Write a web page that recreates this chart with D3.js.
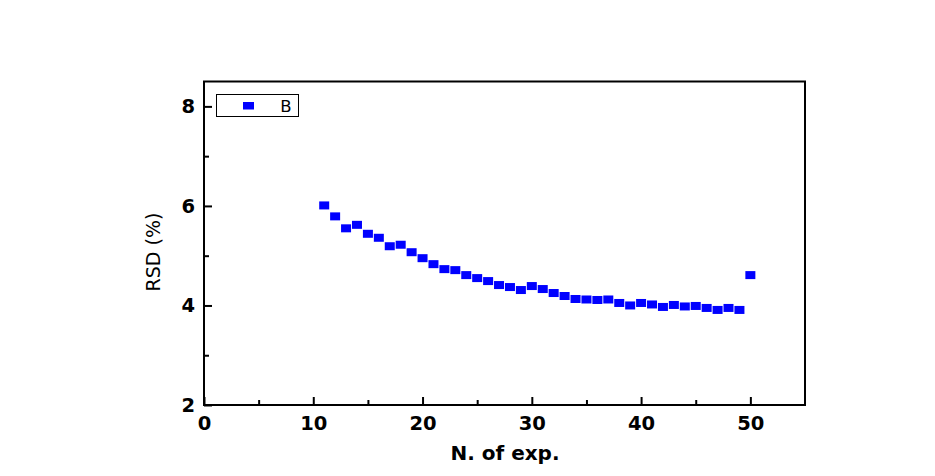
<!DOCTYPE html>
<html>
<head>
<meta charset="utf-8">
<script src="https://cdn.jsdelivr.net/npm/d3@7"></script>
<style>
  html, body { margin: 0; padding: 0; background: #fff; }
  svg { display: block; }
</style>
</head>
<body>
<svg id="chart" width="935" height="476"></svg>
<script>
const expN = [11,12,13,14,15,16,17,18,19,20,21,22,23,24,25,26,27,28,29,30,
              31,32,33,34,35,36,37,38,39,40,41,42,43,44,45,46,47,48,49,50];
const rsdB = [6.01,5.79,5.55,5.62,5.44,5.36,5.19,5.22,5.07,4.95,4.83,4.73,4.71,4.61,4.55,4.49,4.41,4.37,4.31,4.39,
              4.33,4.25,4.19,4.13,4.12,4.11,4.12,4.05,4.00,4.05,4.02,3.97,4.01,3.98,3.99,3.95,3.91,3.95,3.91,4.61];
const xMajorTicks = [0,10,20,30,40,50];
const xMinorTicks = [5,15,25,35,45];
const yMajorTicks = [2,4,6,8];
const yMinorTicks = [3,5,7];
const seriesName = "B";
const xTitle = "N. of exp.";
const yTitle = "RSD (%)";

const svg = d3.select("#chart");
const L = 204, R = 805, T = 81.5, B = 405;
const x = d3.scaleLinear().domain([0,55]).range([L,R]);
const y = d3.scaleLinear().domain([2,8.5]).range([B,T]);
const font = "'DejaVu Sans', sans-serif";

// points
svg.append("g").selectAll("rect").data(expN).join("rect")
  .attr("x", (d) => x(d) - 5)
  .attr("y", (d,i) => y(rsdB[i]) - 4)
  .attr("width", 10).attr("height", 8)
  .attr("fill", "#0000ff");

// frame
svg.append("rect").attr("x", L).attr("y", T).attr("width", R-L).attr("height", B-T)
  .attr("fill", "none").attr("stroke", "#000").attr("stroke-width", 2);

// x axis
const xAxis = d3.axisBottom(x).tickValues(xMajorTicks).tickFormat(d3.format("d"))
  .tickSizeInner(-8).tickSizeOuter(0).tickPadding(11);
const gx = svg.append("g").attr("transform", `translate(0,${B})`).call(xAxis);
gx.select(".domain").remove();
gx.selectAll(".tick line").attr("stroke-width", 2);
gx.selectAll(".tick text").attr("font-family", font).attr("font-weight", "bold").attr("font-size", 19.5).attr("fill", "#000");
const xMinor = d3.axisBottom(x).tickValues(xMinorTicks).tickSizeInner(-5).tickSizeOuter(0).tickFormat("");
const gxm = svg.append("g").attr("transform", `translate(0,${B})`).call(xMinor);
gxm.select(".domain").remove();
gxm.selectAll(".tick line").attr("stroke-width", 2);

// y axis
const yAxis = d3.axisLeft(y).tickValues(yMajorTicks).tickFormat(d3.format("d"))
  .tickSizeInner(-8).tickSizeOuter(0).tickPadding(9);
const gy = svg.append("g").attr("transform", `translate(${L},0)`).call(yAxis);
gy.select(".domain").remove();
gy.selectAll(".tick line").attr("stroke-width", 2);
gy.selectAll(".tick text").attr("font-family", font).attr("font-weight", "bold").attr("font-size", 19.5).attr("fill", "#000");
const yMinor = d3.axisLeft(y).tickValues(yMinorTicks).tickSizeInner(-5).tickSizeOuter(0).tickFormat("");
const gym = svg.append("g").attr("transform", `translate(${L},0)`).call(yMinor);
gym.select(".domain").remove();
gym.selectAll(".tick line").attr("stroke-width", 2);

// titles
svg.append("text").attr("x", 505).attr("y", 460).attr("text-anchor", "middle")
  .attr("font-family", font).attr("font-weight", "bold").attr("font-size", 20).text(xTitle);
svg.append("text").attr("transform", "translate(160,252) rotate(-90)").attr("text-anchor", "middle")
  .attr("font-family", font).attr("font-size", 19).text(yTitle);

// legend
svg.append("rect").attr("x", 216.5).attr("y", 94.5).attr("width", 82).attr("height", 22)
  .attr("fill", "#fff").attr("stroke", "#000").attr("stroke-width", 1);
svg.append("rect").attr("x", 243).attr("y", 102).attr("width", 11).attr("height", 7.5).attr("fill", "#0000ff");
svg.append("text").attr("x", 286).attr("y", 112).attr("text-anchor", "middle")
  .attr("font-family", font).attr("font-size", 16.5).text(seriesName);
</script>
</body>
</html>
